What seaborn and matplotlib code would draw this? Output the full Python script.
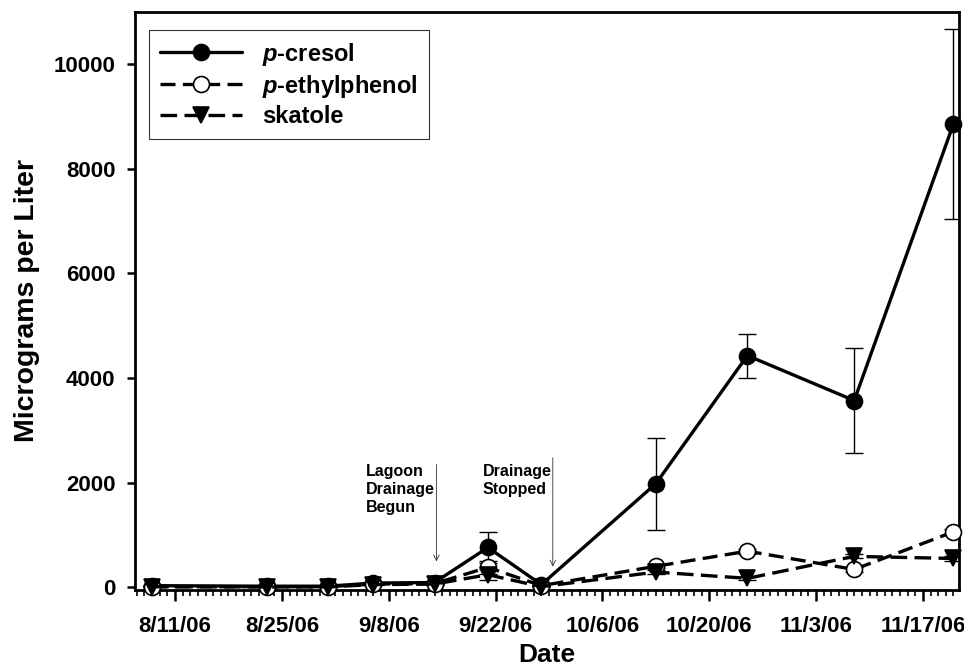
import matplotlib
matplotlib.use("Agg")
import matplotlib.pyplot as plt
import matplotlib.dates as mdates
import seaborn as sns
import pandas as pd

# sampling dates and mean concentrations (ug/L)
dates = pd.to_datetime(['2006-08-08', '2006-08-23', '2006-08-31', '2006-09-06',
                        '2006-09-14', '2006-09-21', '2006-09-28', '2006-10-13',
                        '2006-10-25', '2006-11-08', '2006-11-21'])
cresol = [30, 20, 20, 80, 90, 760, 50, 1980, 4430, 3570, 8860]
cresol_err = [20, 10, 10, 20, 20, 300, 20, 880, 420, 1010, 1810]
ethyl = [10, 10, 10, 60, 70, 380, 30, 400, 690, 340, 1060]
ethyl_err = [5, 5, 5, 10, 10, 120, 10, 40, 50, 40, 60]
skatole = [10, 5, 5, 50, 60, 240, 10, 290, 170, 590, 550]
skatole_err = [5, 5, 5, 10, 10, 100, 10, 30, 30, 40, 40]

tick_dates = pd.to_datetime(['2006-08-11', '2006-08-25', '2006-09-08', '2006-09-22',
                             '2006-10-06', '2006-10-20', '2006-11-03', '2006-11-17'])
tick_labels = ['8/11/06', '8/25/06', '9/8/06', '9/22/06',
               '10/6/06', '10/20/06', '11/3/06', '11/17/06']

events = ['Lagoon\nDrainage\nBegun', 'Drainage\nStopped']
event_dates = [pd.Timestamp('2006-09-14 06:00'), pd.Timestamp('2006-09-29 12:00')]
event_tips = [440, 340]
event_tops = [2400, 2530]

sns.set_style("ticks")
plt.rcParams['font.family'] = ['Liberation Sans', 'DejaVu Sans']
plt.rcParams['font.weight'] = 'bold'
plt.rcParams['mathtext.fontset'] = 'custom'
plt.rcParams['mathtext.it'] = 'Liberation Sans:italic:bold'
plt.rcParams['mathtext.rm'] = 'Liberation Sans:bold'
for k in ['text.color', 'axes.labelcolor', 'xtick.color', 'ytick.color', 'axes.edgecolor']:
    plt.rcParams[k] = 'black'

fig = plt.figure(figsize=(9.64, 6.68), dpi=100)
ax = fig.add_axes([0.140, 0.117, 0.855, 0.865])

series = [
    (cresol, cresol_err, '$\\it{p}$-cresol', None, 'o', 'black'),
    (ethyl, ethyl_err, '$\\it{p}$-ethylphenol', (4.5, 2.2), 'o', 'white'),
    (skatole, skatole_err, 'skatole', (5, 2.2), 'v', 'black'),
]
for vals, err, lab, dash, mk, fc in series:
    ax.errorbar(dates, vals, yerr=err, fmt='none', ecolor='black',
                elinewidth=1, capsize=6.5, capthick=1, zorder=2)
    sns.lineplot(x=dates, y=vals, ax=ax, color='black', lw=2.4,
                 marker=mk, markersize=11.5, markerfacecolor=fc,
                 markeredgecolor='black', markeredgewidth=1.2,
                 label=lab, zorder=3, clip_on=False)
    if dash is not None:
        ax.lines[-1].set_dashes(dash)

for txt, d, tip, top in zip(events, event_dates, event_tips, event_tops):
    ax.annotate('', xy=(d, tip), xytext=(d, top),
                arrowprops=dict(arrowstyle='->', lw=0.6, color='#333333'))
    ax.text(d - pd.Timedelta(days=9.2), 2360, txt,
            fontsize=11.5, fontweight='bold', va='top', ha='left', linespacing=1.25)

ax.set_xlim(pd.Timestamp('2006-08-05 18:00'), pd.Timestamp('2006-11-21 18:00'))
ax.set_ylim(-50, 11000)
ax.set_xticks(tick_dates)
ax.set_xticklabels(tick_labels)
ax.xaxis.set_minor_locator(mdates.DayLocator())
ax.set_yticks([0, 2000, 4000, 6000, 8000, 10000])
ax.tick_params(axis='both', which='major', labelsize=16, width=1.8, direction='out')
ax.tick_params(axis='x', which='major', length=8, pad=11)
ax.tick_params(axis='y', which='major', length=6, pad=8)
ax.tick_params(axis='x', which='minor', width=1.2, length=4, direction='out')
for lbl in ax.get_xticklabels() + ax.get_yticklabels():
    lbl.set_fontweight('bold')
for sp in ax.spines.values():
    sp.set_linewidth(2)
    sp.set_visible(True)

ax.set_xlabel('Date', fontsize=19, fontweight='bold', labelpad=4)
ax.set_ylabel('Micrograms per Liter', fontsize=20.5, fontweight='bold', labelpad=10)

leg = ax.legend(loc='upper left', bbox_to_anchor=(0.017, 0.969), borderaxespad=0,
                fontsize=17, handlelength=3.5, frameon=True, fancybox=False,
                edgecolor='black', borderpad=0.45, labelspacing=0.22,
                handletextpad=0.85)
leg.get_frame().set_linewidth(0.8)

fig.savefig('out.png', dpi=100)
